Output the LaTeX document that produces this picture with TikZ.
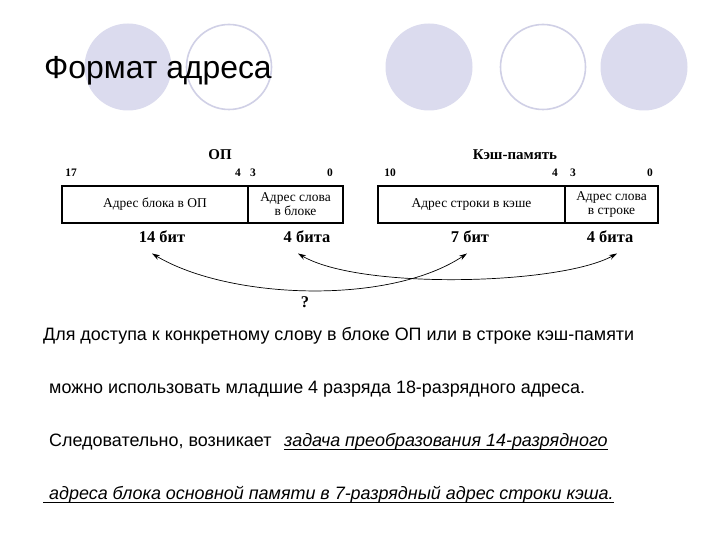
\documentclass[tikz,border=0pt]{standalone}
\usepackage{fontspec}
\setmainfont{Liberation Serif}
\setsansfont{Liberation Sans}
\usetikzlibrary{arrows.meta,positioning}
\definecolor{lav}{RGB}{219,219,238}
\definecolor{lavline}{RGB}{208,208,230}
\tikzset{
  krug/.style={fill=lav},
  kolco/.style={draw=lavline,line width=1.6bp},
  pole/.style={draw,line width=1.6bp,minimum height=37bp,inner sep=1pt,align=center,
    font=\fontsize{13.5}{14}\selectfont},
  nom/.style={font=\bfseries\fontsize{11.5}{12}\selectfont},
  zag/.style={font=\bfseries\fontsize{15}{16}\selectfont},
  bit/.style={font=\bfseries\fontsize{16.5}{17}\selectfont},
  nyil/.style={line width=0.7bp,{Stealth[length=8bp,width=5bp]}-{Stealth[length=8bp,width=5bp]}},
  txt/.style={font=\sffamily\fontsize{18}{20}\selectfont,inner sep=0pt},
  podch/.style={line width=0.9bp},
}

\begin{document}
\begin{tikzpicture}[x=1bp,y=-1bp]
  \useasboundingbox[fill=white] (0,0) rectangle (720,540);
  % circles of the slide
  \foreach \cx in {128,429,644} \fill[krug] (\cx,67) circle (43.5);
  \foreach \cx in {229,543} \draw[kolco] (\cx,67) circle (42.5);
  \node[font=\sffamily\fontsize{32}{34}\selectfont,inner sep=0pt,anchor=base west] (titul) at (44,79) {Формат адреса};

  % main memory address
  \node[zag] (op) at (220,155) {ОП};
  \node[pole,minimum width=186bp] (blokop) at (155,204.5) {Адрес блока в ОП};
  \node[pole,minimum width=95bp] (slovoop) at (295.5,204.5) {Адрес слова\\в блоке};
  \node[nom] at (71,173) {17}; \node[nom] at (238,173) {4};
  \node[nom] at (253,173) {3}; \node[nom] at (330,173) {0};
  \node[bit] (bit14) at (162,237) {14 бит};
  \node[bit] (bit4a) at (307,237) {4 бита};

  % cache address
  \node[zag] (kesh) at (515,155) {Кэш-память};
  \node[pole,minimum width=187bp] (strokak) at (471.5,204.5) {Адрес строки в кэше};
  \node[pole,minimum width=93bp] (slovok) at (611.5,204.5) {Адрес слова\\в строке};
  \node[nom] at (390,173) {10}; \node[nom] at (555,173) {4};
  \node[nom] at (573,173) {3}; \node[nom] at (650,173) {0};
  \node[bit] (bit7) at (470,237) {7 бит};
  \node[bit] (bit4b) at (610,237) {4 бита};

  % correspondence
  \draw[nyil] ([xshift=-10bp,yshift=-7bp]bit14.south) .. controls (230,300) and (390,305) .. ([xshift=-3bp,yshift=-7bp]bit7.south);
  \draw[nyil] ([xshift=-9bp,yshift=-7bp]bit4a.south) .. controls (360,290) and (560,285) .. ([xshift=7bp,yshift=-7bp]bit4b.south);
  \node[bit] (vopros) at (305,302) {?};

  % text
  \node[txt,anchor=base west] (s1) at (43,340) {Для доступа к конкретному слову в блоке ОП или в строке кэш-памяти};
  \node[txt,anchor=base west] (s2) at (49,393) {можно использовать младшие 4 разряда 18-разрядного адреса.};
  \node[txt,anchor=base west] (s3) at (49,446) {Следовательно, возникает};
  \node[txt,anchor=base west,font=\sffamily\itshape\fontsize{18}{20}\selectfont] (s3u) at (284,446) {задача преобразования 14-разрядного};
  \node[txt,anchor=base west,font=\sffamily\itshape\fontsize{18}{20}\selectfont] (s4) at (49,499) {адреса блока основной памяти в 7-разрядный адрес строки кэша.};
  \draw[podch] ([yshift=-3bp]s3u.base west) -- ([yshift=-3bp]s3u.base east);
  \draw[podch] ([xshift=-6bp,yshift=-3bp]s4.base west) -- ([yshift=-3bp]s4.base east);
\end{tikzpicture}
\end{document}
